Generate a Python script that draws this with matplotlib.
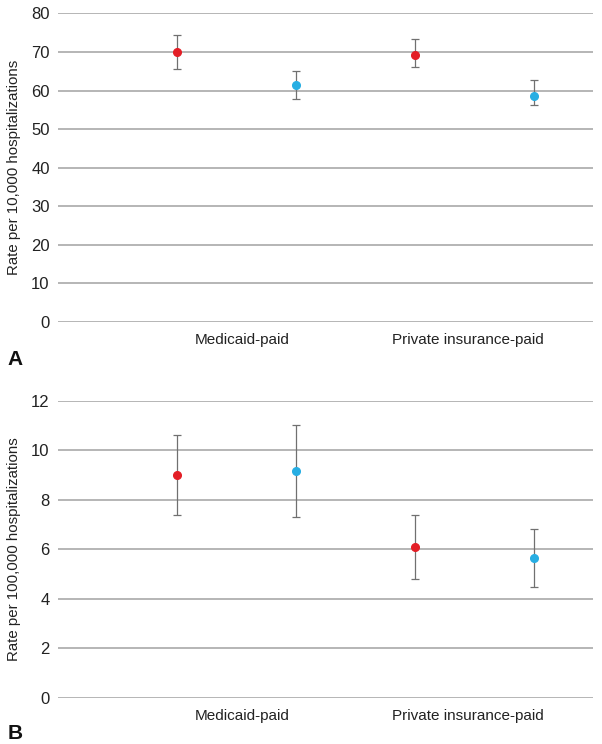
import matplotlib
matplotlib.use("Agg")
import matplotlib.pyplot as plt

plt.rcParams["font.family"] = ["Liberation Sans", "DejaVu Sans"]

# Shared categories / groups
groups = ["Medicaid-paid", "Private insurance-paid"]
series_colors = ["#e31e26", "#27aee3"]

# Panel A: rate per 10,000 hospitalizations (point, lower, upper)
a_values = [[70.0, 69.2], [61.5, 58.7]]
a_lower = [[65.5, 66.1], [57.9, 56.3]]
a_upper = [[74.4, 73.5], [65.1, 62.8]]
a_ticks = [0, 10, 20, 30, 40, 50, 60, 70, 80]

# Panel B: rate per 100,000 hospitalizations
b_values = [[9.0, 6.1], [9.15, 5.63]]
b_lower = [[7.37, 4.8], [7.29, 4.48]]
b_upper = [[10.6, 7.39], [11.03, 6.82]]
b_ticks = [0, 2, 4, 6, 8, 10, 12]


def draw_panel(ax, values, lower, upper, ticks, ylabel, letter):
    for s, color in enumerate(series_colors):
        xs = [1 + 2 * g + s for g in range(len(groups))]
        ys = values[s]
        err = [[y - lo for y, lo in zip(ys, lower[s])],
               [hi - y for y, hi in zip(ys, upper[s])]]
        ax.errorbar(xs, ys, yerr=err, fmt="none", ecolor="#707070",
                    elinewidth=0.9, capsize=3, capthick=0.9, zorder=3)
        ax.plot(xs, ys, "o", color=color, markersize=5.5, zorder=4)
    ax.set_xlim(0, 4.5)
    ax.set_ylim(ticks[0], ticks[-1])
    ax.set_yticks(ticks)
    ax.grid(axis="y", color="#b0b0b0", linewidth=1.3)
    ax.set_axisbelow(True)
    for sp in ax.spines.values():
        sp.set_visible(False)
    ax.set_xticks([1.55, 3.45])
    ax.set_xticklabels(groups, fontsize=11, color="#222222")
    ax.tick_params(axis="x", length=0, pad=8)
    ax.tick_params(axis="y", length=0, pad=6, labelsize=12, labelcolor="#222222")
    ax.set_ylabel(ylabel, fontsize=10.8, color="#222222", labelpad=7)
    ax.text(-0.095, -0.12, letter, transform=ax.transAxes, fontsize=15,
            fontweight="bold", ha="left", va="center", color="#111111")


fig = plt.figure(figsize=(6.02, 7.44), dpi=100)
ax_a = fig.add_axes([0.0963, 0.5672, 0.8887, 0.4147])
ax_b = fig.add_axes([0.0963, 0.0622, 0.8887, 0.3992])

draw_panel(ax_a, a_values, a_lower, a_upper, a_ticks,
           "Rate per 10,000 hospitalizations", "A")
draw_panel(ax_b, b_values, b_lower, b_upper, b_ticks,
           "Rate per 100,000 hospitalizations", "B")

fig.savefig("out.png", dpi=100)
